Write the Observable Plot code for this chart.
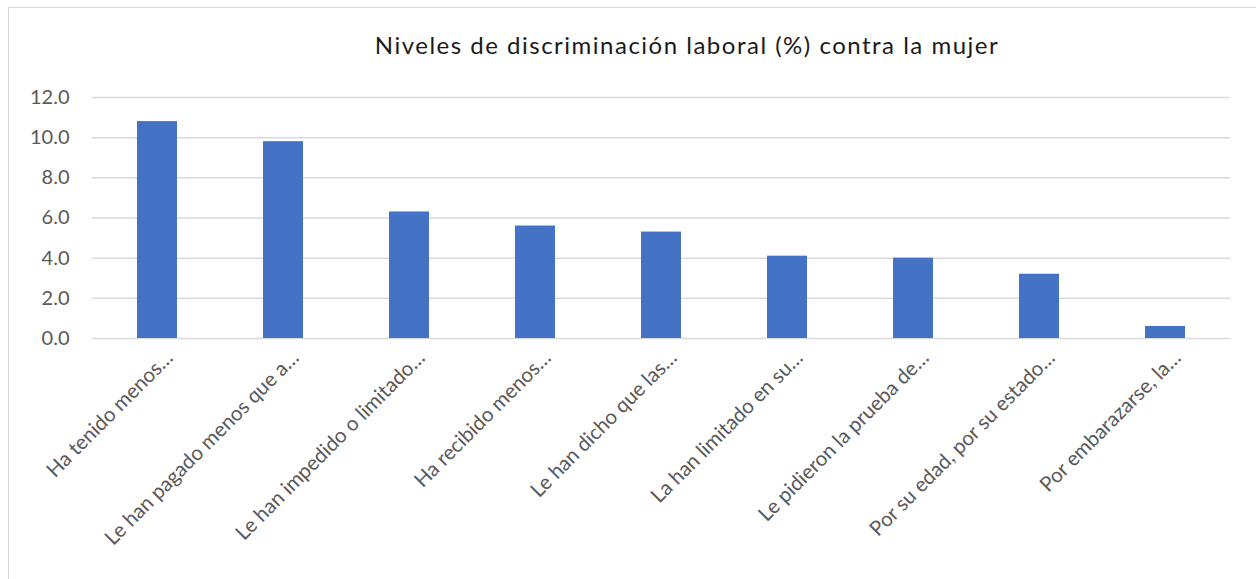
<!DOCTYPE html>
<html>
<head>
<meta charset="utf-8">
<script src="https://cdn.jsdelivr.net/npm/d3@7"></script>
<script src="https://cdn.jsdelivr.net/npm/@observablehq/plot@0.6"></script>
<style>
  html, body { margin: 0; padding: 0; background: #fff; overflow: hidden; }
  #wrap { position: relative; width: 1256px; height: 579px; }
  #frame { position: absolute; left: 8px; top: 7px; width: 1300px; height: 700px; border: 1px solid #d9d9d9; box-sizing: border-box; pointer-events: none; }
  #title { height: 80px; box-sizing: border-box; padding-top: 33px; padding-left: 118px; text-align: center;
           font-family: Lato, sans-serif; font-size: 24px; line-height: 24px; letter-spacing: 1.5px; color: #1a1a1a; white-space: nowrap; }
  svg { display: block; }
</style>
</head>
<body>
<div id="wrap">
  <div id="frame"></div>
  <div id="title">Niveles de discriminación laboral (%) contra la mujer</div>
  <div id="chart"></div>
</div>
<script>
const categories = [
  "Ha tenido menos…",
  "Le han pagado menos que a…",
  "Le han impedido o limitado…",
  "Ha recibido menos…",
  "Le han dicho que las…",
  "La han limitado en su…",
  "Le pidieron la prueba de…",
  "Por su edad, por su estado…",
  "Por embarazarse, la…"
];
const values = [10.8, 9.8, 6.3, 5.6, 5.3, 4.1, 4.0, 3.2, 0.6];
const yTicks = [0, 2, 4, 6, 8, 10, 12];

const data = categories.map((c, i) => ({category: c, value: values[i]}));

const chart = Plot.plot({
  width: 1256,
  height: 499,
  marginTop: 17,
  marginBottom: 241,
  marginLeft: 92,
  marginRight: 26,
  style: {fontFamily: "Lato, sans-serif", fontSize: "20px", color: "#595959", background: "transparent"},
  x: {domain: categories, paddingInner: 0.684, paddingOuter: 0.342, label: null},
  y: {domain: [0, 12], label: null},
  marks: [
    Plot.gridY(yTicks, {stroke: "#d9d9d9", strokeOpacity: 1, strokeWidth: 1.5}),
    Plot.barY(data, {x: "category", y: "value", fill: "#4472C4"}),
    Plot.axisY(yTicks, {tickSize: 0, tickPadding: 23, tickFormat: d => d.toFixed(1), label: null, fill: "#595959"}),
    Plot.axisX({tickSize: 0, tickRotate: -45, tickPadding: 16, dx: 12, label: null, fill: "#595959", fontSize: 20.5})
  ]
});
document.getElementById("chart").appendChild(chart);
</script>
</body>
</html>
